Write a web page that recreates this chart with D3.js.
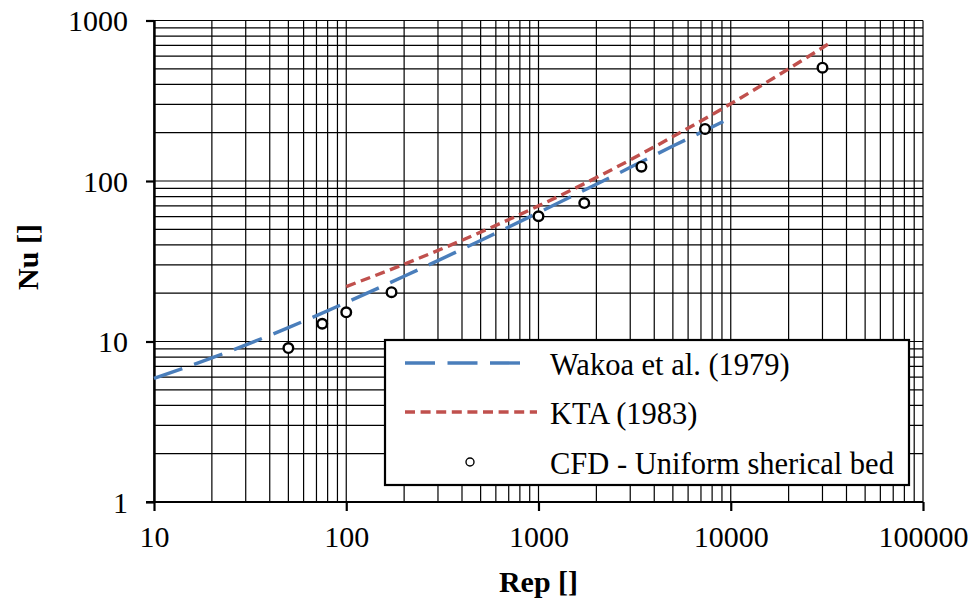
<!DOCTYPE html>
<html>
<head>
<meta charset="utf-8">
<script src="https://cdn.jsdelivr.net/npm/d3@7"></script>
<style>
  html, body { margin: 0; padding: 0; background: #fff; }
  svg { display: block; }
  text { font-family: "Liberation Serif", "Times New Roman", serif; fill: #000; }
</style>
</head>
<body>
<svg id="chart" width="970" height="603"></svg>
<script>
// Correlations and simulation results: Nusselt number vs particle Reynolds number
const wakaoRe = [10, 20, 50, 100, 200, 500, 1000, 2000, 5000, 10000];
const wakaoNu = [5.9, 7.9, 12.2, 17.5, 25.5, 42.6, 63.6, 95.4, 165, 247];

const ktaRe = [100, 200, 500, 1000, 2000, 5000, 10000, 20000, 32000];
const ktaNu = [22.0, 30.3, 48.0, 70.0, 105, 189, 303, 500, 711];

const cfdRe = [50, 75, 100, 172, 1000, 1730, 3430, 7350, 30000];
const cfdNu = [9.1, 12.9, 15.2, 20.3, 60.3, 72.9, 122.8, 211, 508];

const xTicks = [10, 100, 1000, 10000, 100000];
const yTicks = [1, 10, 100, 1000];

const legendLabels = ["Wakoa et al. (1979)", "KTA (1983)", "CFD - Uniform sherical bed"];
const seriesColors = { wakao: "#4a7ebb", kta: "#c0504d" };

const serif = "Liberation Serif, Times New Roman, serif";
const svg = d3.select("#chart");
const plotLeft = 154, plotRight = 923, plotTop = 20.5, plotBottom = 502;

const x = d3.scaleLog().domain([10, 100000]).range([plotLeft, plotRight]);
const y = d3.scaleLog().domain([1, 1000]).range([plotBottom, plotTop]);

// minor + major grid values for each decade
function gridValues(lo, hi) {
  const vals = [];
  for (let d = lo; d < hi; d *= 10) {
    for (let m = 1; m <= 9; m++) vals.push(d * m);
  }
  vals.push(hi);
  return vals;
}

const grid = svg.append("g").attr("stroke", "#000").attr("stroke-width", 1.2);
grid.selectAll("line.vx").data(gridValues(10, 100000)).join("line")
  .attr("x1", d => x(d)).attr("x2", d => x(d))
  .attr("y1", plotTop).attr("y2", plotBottom);
grid.selectAll("line.hy").data(gridValues(1, 1000)).join("line")
  .attr("x1", plotLeft).attr("x2", plotRight)
  .attr("y1", d => y(d)).attr("y2", d => y(d));

// axes
const xAxis = d3.axisBottom(x).tickValues(xTicks).tickFormat(d3.format("d"))
  .tickSizeInner(9).tickSizeOuter(0).tickPadding(12);
const gx = svg.append("g").attr("transform", `translate(0,${plotBottom})`).call(xAxis);
gx.select(".domain").attr("stroke", "#000").attr("stroke-width", 2.2)
  .attr("d", `M${plotLeft - 8},0H${plotRight}`);
gx.selectAll(".tick line").attr("stroke", "#000").attr("stroke-width", 2.2);
gx.selectAll(".tick text").attr("font-size", 30).attr("fill", "#000")
  .attr("font-family", serif).attr("dy", null).attr("y", 45);

const yAxis = d3.axisLeft(y).tickValues(yTicks).tickFormat(d3.format("d"))
  .tickSizeInner(8).tickSizeOuter(0).tickPadding(18);
const gy = svg.append("g").attr("transform", `translate(${plotLeft},0)`).call(yAxis);
gy.select(".domain").attr("stroke", "#000").attr("stroke-width", 2.4);
gy.selectAll(".tick line").attr("stroke", "#000").attr("stroke-width", 2.2);
gy.selectAll(".tick text").attr("font-size", 30).attr("fill", "#000")
  .attr("font-family", serif).attr("dy", "0.34em");

// axis titles
svg.append("text").attr("x", (plotLeft + plotRight) / 2).attr("y", 592)
  .attr("text-anchor", "middle").attr("font-family", serif)
  .attr("font-size", 30).attr("font-weight", "bold")
  .text("Rep []");
svg.append("text").attr("transform", "translate(38,257) rotate(-90)")
  .attr("text-anchor", "middle").attr("font-family", serif)
  .attr("font-size", 30).attr("font-weight", "bold")
  .text("Nu []");

// series
const line = d3.line().x(d => x(d[0])).y(d => y(d[1])).curve(d3.curveMonotoneX);

svg.append("path").datum(d3.zip(wakaoRe, wakaoNu))
  .attr("fill", "none").attr("stroke", seriesColors.wakao).attr("stroke-width", 3.4)
  .attr("stroke-dasharray", "30,12.5").attr("d", line);

svg.append("path").datum(d3.zip(ktaRe, ktaNu))
  .attr("fill", "none").attr("stroke", seriesColors.kta).attr("stroke-width", 3.4)
  .attr("stroke-dasharray", "10,5.6").attr("d", line);

svg.append("g").selectAll("circle").data(d3.zip(cfdRe, cfdNu)).join("circle")
  .attr("cx", d => x(d[0])).attr("cy", d => y(d[1])).attr("r", 4.8)
  .attr("fill", "#fff").attr("stroke", "#000").attr("stroke-width", 2.4);

// legend
const lg = svg.append("g");
lg.append("rect").attr("x", 385).attr("y", 340).attr("width", 524).attr("height", 145)
  .attr("fill", "#fff").attr("stroke", "#000").attr("stroke-width", 2.2);
const rowsY = [363, 412, 462];
lg.append("line").attr("x1", 405).attr("x2", 522).attr("y1", rowsY[0]).attr("y2", rowsY[0])
  .attr("stroke", seriesColors.wakao).attr("stroke-width", 3.4).attr("stroke-dasharray", "30,12.5");
lg.append("line").attr("x1", 405).attr("x2", 537).attr("y1", rowsY[1]).attr("y2", rowsY[1])
  .attr("stroke", seriesColors.kta).attr("stroke-width", 3.4).attr("stroke-dasharray", "10,5.6");
lg.append("circle").attr("cx", 470).attr("cy", rowsY[2]).attr("r", 4)
  .attr("fill", "#fff").attr("stroke", "#000").attr("stroke-width", 1.4);
lg.selectAll("text").data(legendLabels).join("text")
  .attr("x", 550).attr("y", (d, i) => rowsY[i] + 12)
  .attr("font-family", serif).attr("font-size", 30.5).text(d => d);
</script>
</body>
</html>
